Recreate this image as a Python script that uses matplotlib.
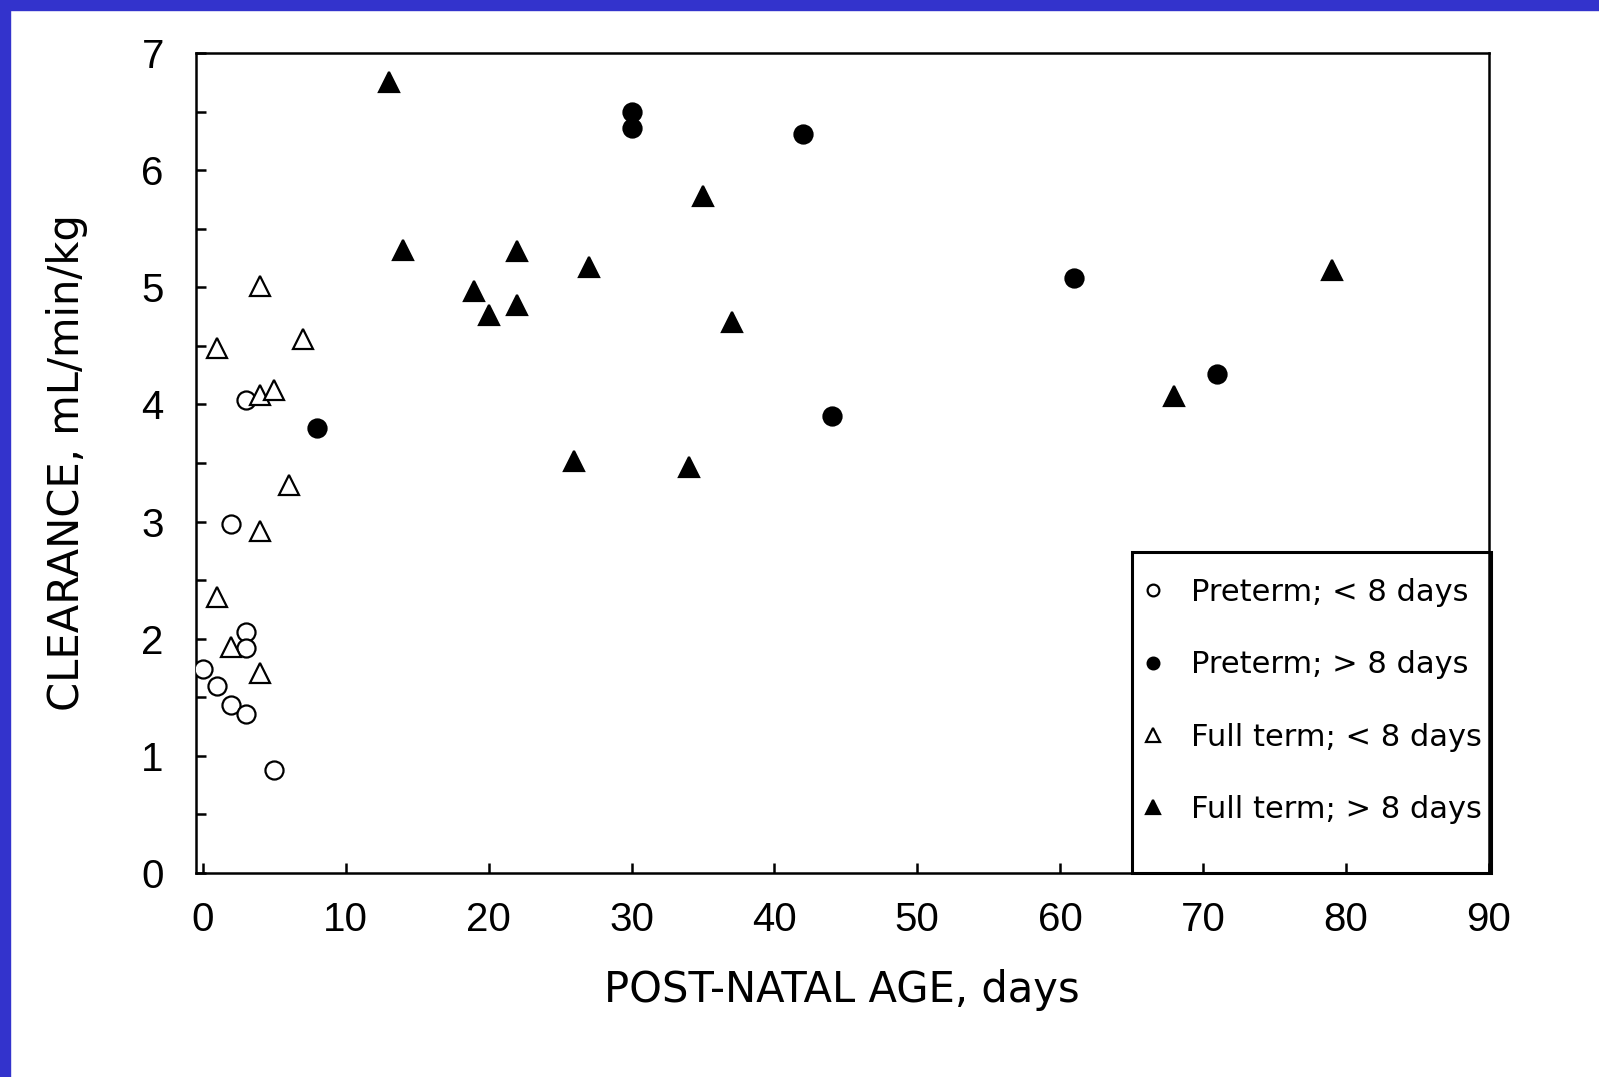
import matplotlib
matplotlib.use("Agg")
import matplotlib.pyplot as plt
from matplotlib.patches import Rectangle
from matplotlib.ticker import MultipleLocator

# Preterm; < 8 days
pre_early_age = [2, 3, 3, 3, 0, 1, 2, 3, 5]
pre_early_cl = [2.98, 4.04, 2.06, 1.92, 1.74, 1.60, 1.43, 1.36, 0.88]

# Preterm; > 8 days
pre_late_age = [8, 30, 30, 42, 44, 61, 71]
pre_late_cl = [3.80, 6.50, 6.36, 6.31, 3.90, 5.08, 4.26]

# Full term; < 8 days
full_early_age = [4, 1, 7, 4, 5, 6, 4, 1, 2, 4]
full_early_cl = [5.01, 4.48, 4.56, 4.08, 4.12, 3.31, 2.92, 2.36, 1.93, 1.71]

# Full term; > 8 days
full_late_age = [13, 14, 19, 20, 22, 22, 27, 26, 35, 34, 37, 68, 79]
full_late_cl = [6.75, 5.32, 4.97, 4.76, 5.31, 4.85, 5.17, 3.52, 5.78, 3.47, 4.70, 4.07, 5.15]

labels = ["Preterm; < 8 days", "Preterm; > 8 days",
          "Full term; < 8 days", "Full term; > 8 days"]

plt.rcParams['font.family'] = ['Liberation Sans', 'DejaVu Sans']
wide = ['DejaVu Sans']

fig = plt.figure(figsize=(15.99, 10.77), dpi=100)
fig.patch.set_facecolor('white')

# blue frame on top and left
blue = '#3333cc'
fig.patches.append(Rectangle((0, 0.9905), 1, 0.0095, transform=fig.transFigure,
                             color=blue, zorder=0))
fig.patches.append(Rectangle((0, 0), 0.0063, 1, transform=fig.transFigure,
                             color=blue, zorder=0))

ax = fig.add_axes([0.1224, 0.1894, 0.8087, 0.7614])

ax.plot(pre_early_age, pre_early_cl, 'o', ms=13, mfc='white', mec='black',
        mew=1.6, label=labels[0], zorder=3)
ax.plot(pre_late_age, pre_late_cl, 'o', ms=13, mfc='black', mec='black',
        mew=1.6, label=labels[1], zorder=3)
ax.plot(full_early_age, full_early_cl, '^', ms=15, mfc='white', mec='black',
        mew=1.6, label=labels[2], zorder=3)
ax.plot(full_late_age, full_late_cl, '^', ms=15, mfc='black', mec='black',
        mew=1.6, label=labels[3], zorder=3)

ax.set_xlim(-0.5, 90)
ax.set_ylim(0, 7)
ax.xaxis.set_major_locator(MultipleLocator(10))
ax.yaxis.set_major_locator(MultipleLocator(1))
ax.yaxis.set_minor_locator(MultipleLocator(0.5))
ax.tick_params(axis='both', which='both', direction='in', length=7, width=1.8,
               labelsize=29, top=False, right=False)
ax.tick_params(axis='y', pad=23)
ax.tick_params(axis='x', pad=20)
for s in ax.spines.values():
    s.set_linewidth(1.8)

ax.set_xlabel('POST-NATAL AGE, days', fontsize=30, labelpad=22, family=wide)
ax.set_ylabel('CLEARANCE, mL/min/kg', fontsize=30, labelpad=38, family=wide)

# legend box
ax.add_patch(Rectangle((0.724, 0), 0.278, 0.392, transform=ax.transAxes,
                       fill=False, ec='black', lw=2.2, zorder=4, clip_on=False))
leg = ax.legend(loc='upper left', bbox_to_anchor=(0.7105, 0.392), frameon=False,
                prop={'family': wide, 'size': 22}, markerscale=0.65,
                handlelength=0.8, handletextpad=0.85, labelspacing=1.42,
                borderpad=0.36)

fig.savefig('out.png', dpi=100)
